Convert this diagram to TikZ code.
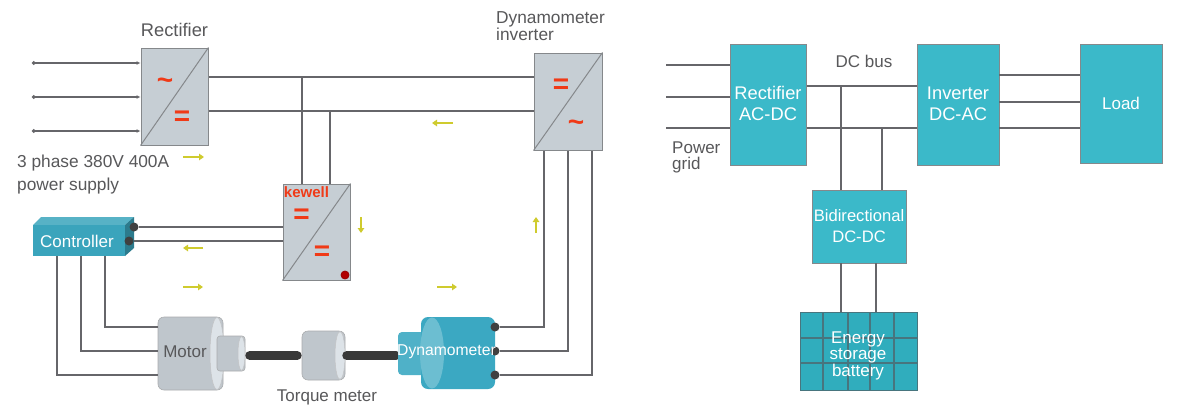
\documentclass[tikz,border=0pt]{standalone}
\usepackage{fontspec}
\setmainfont{Liberation Sans}
\usetikzlibrary{arrows.meta,calc,shapes.geometric}
\definecolor{boxgrey}{HTML}{C6CED4}
\definecolor{edgegrey}{HTML}{85888B}
\definecolor{wire}{HTML}{66666A}
\definecolor{tealbox}{HTML}{3BB9C9}
\definecolor{teal2}{HTML}{30ADBD}
\definecolor{gridline}{HTML}{48757E}
\definecolor{ctrlteal}{HTML}{3AA4BC}
\definecolor{dyno}{HTML}{3BA8C2}
\definecolor{labelgrey}{HTML}{58585A}
\definecolor{redmark}{HTML}{F03A17}
\definecolor{flowyellow}{HTML}{CFCB2E}
\definecolor{motorgrey}{HTML}{BFC6CC}
\definecolor{motorlight}{HTML}{DDE3E8}
\newcommand{\fs}[2]{\fontsize{#1}{#2}\selectfont}
\tikzset{
  x=1pt,y=-1pt,
  conv/.style={draw=edgegrey,fill=boxgrey,line width=1pt,inner sep=0pt},
  tealnode/.style={draw=edgegrey,fill=tealbox,line width=1pt,inner sep=0pt,text=white,align=center,font=\fs{17}{17}},
  wireline/.style={draw=wire,line width=1.5pt},
  diag/.style={draw=edgegrey,line width=1pt},
  lab/.style={text=labelgrey,inner sep=0pt,align=left},
  wlab/.style={text=white,inner sep=0pt,align=center},
  markr/.style={text=redmark,inner sep=0pt,font=\fs{28}{28}\bfseries},
  flow/.style={draw=flowyellow,line width=2.4pt,-{Triangle[length=5pt,width=6.5pt]}},
  feed/.style={draw=wire,line width=1.4pt,{Circle[length=3.5pt]}-{Latex[length=4pt,width=4pt]}},
  port/.style={circle,fill=black!75,inner sep=0pt,minimum size=9pt},
  cyl/.style={draw=edgegrey!70,fill=motorgrey,line width=.6pt,inner sep=0pt,rounded corners=6pt},
  endcap/.style={ellipse,draw=edgegrey!50,fill=motorlight,line width=.5pt,inner sep=0pt},
  shaft/.style={draw=black!78,line width=9pt,line cap=round},
}
\begin{document}
\begin{tikzpicture}
\useasboundingbox (0,0) rectangle (1177,408);
\fill[white] (0,0) rectangle (1177,408);

% --- converters, left panel
\node[conv,minimum width=67pt,minimum height=97pt] (rect) at (174.5,96.5) {};
\node[conv,minimum width=68pt,minimum height=97pt] (inv) at (568,101.5) {};
\node[conv,minimum width=67pt,minimum height=96pt] (kew) at (316.5,232) {};
\draw[diag] (rect.south west) -- (rect.north east);
\draw[diag] (inv.south west) -- (inv.north east);
\draw[diag] (kew.south west) -- (kew.north east);
\node[markr] (m1) at (165,84) {\char`~};
\node[markr] (m2) at (182,118) {=};
\node[markr] (m3) at (561,86) {=};
\node[markr] (m4) at (576,126) {\char`~};
\node[markr] (m5) at (301.5,216.5) {=};
\node[markr] (m6) at (322,253.5) {=};
\node[text=redmark,inner sep=0pt,font=\fs{15}{15}\bfseries] (kewell) at (306.5,192) {kewell};
\node[circle,draw=red!60!black,fill=red!70!black,line width=.8pt,inner sep=0pt,minimum size=8pt] (kdot) at (345,275) {};

% --- input feeds
\coordinate (f1) at (32,63); \coordinate (f2) at (32,97); \coordinate (f3) at (32,131);
\draw[feed] (f1) -- (rect.west |- f1);
\draw[feed] (f2) -- (rect.west |- f2);
\draw[feed] (f3) -- (rect.west |- f3);

% --- DC bus, left panel
\coordinate (b1) at (302,77); \coordinate (b2) at (330,111);
\draw[wireline] (rect.east |- b1) -- (inv.west |- b1);
\draw[wireline] (rect.east |- b2) -- (inv.west |- b2);
\draw[wireline] (b1) -- (b1 |- kew.north);
\draw[wireline] (b2) -- (b2 |- kew.north);

% --- controller
\fill[ctrlteal!85!white] (33,225) -- (41,217) -- (134,217) -- (125,225) -- cycle;
\fill[ctrlteal!75!black] (125,225) -- (134,217) -- (134,248) -- (125,256) -- cycle;
\node[fill=ctrlteal,inner sep=0pt,minimum width=92pt,minimum height=31pt] (ctrl) at (79,240.5) {};
\node[text=white,inner sep=0pt,font=\fs{17}{17}] (ctrll) at (77,241) {Controller};
\node[port] (cp1) at (134,227) {};
\node[port] (cp2) at (129,241) {};
\draw[wireline] (cp1) -- (kew.west |- cp1);
\draw[wireline] (cp2) -- (kew.west |- cp2);

% --- machines
\node[cyl,minimum width=65pt,minimum height=73pt] (motor) at (190.5,353.5) {};
\node[endcap,minimum width=14pt,minimum height=72pt] (motorcap) at (217,353.5) {};
\node[cyl,rounded corners=3pt,minimum width=28pt,minimum height=35pt] (stub) at (231,353.5) {};
\node[endcap,minimum width=7pt,minimum height=34pt] (stubcap) at (241.5,353.5) {};
\node[cyl,minimum width=43pt,minimum height=49pt] (torque) at (323.5,355.5) {};
\node[endcap,minimum width=10pt,minimum height=48pt] (torquecap) at (340,355.5) {};
\draw[shaft] ($(stubcap.east)+(4.5,2)$) -- ($(torque.west)+(-4.5,0)$);
\draw[shaft] ($(torquecap.east)+(1.5,0)$) -- (396,355.5);
\node[fill=dyno!90!white,rounded corners=4pt,inner sep=0pt,minimum width=30pt,minimum height=43pt] (dstub) at (413,353.5) {};
\node[fill=dyno,rounded corners=7pt,inner sep=0pt,minimum width=74pt,minimum height=72pt] (dyn) at (458,353) {};
\node[ellipse,fill=dyno!75!white,inner sep=0pt,minimum width=24pt,minimum height=71pt] (dyncap) at (432,353) {};
\node[port] (dp1) at (495,327) {};
\node[port] (dp2) at (495,351) {};
\node[port] (dp3) at (495,375) {};
\node[text=labelgrey,inner sep=0pt,font=\fs{17}{17}] (motorl) at (185,352) {Motor};
\node[text=white,inner sep=0pt,font=\fs{15.7}{16}] (dynl) at (446.5,352) {Dynamometer};

% --- controller to motor
\coordinate (c1) at (105,327); \coordinate (c2) at (81,351); \coordinate (c3) at (57,375);
\draw[wireline] (c1 |- ctrl.south) -- (c1) -- (motor.west |- c1);
\draw[wireline] (c2 |- ctrl.south) -- (c2) -- (motor.west |- c2);
\draw[wireline] (c3 |- ctrl.south) -- (c3) -- (motor.west |- c3);

% --- dynamometer to inverter
\coordinate (d1) at (544,327); \coordinate (d2) at (568,351); \coordinate (d3) at (592,375);
\draw[wireline] (dp1) -- (d1) -- (d1 |- inv.south);
\draw[wireline] (dp2) -- (d2) -- (d2 |- inv.south);
\draw[wireline] (dp3) -- (d3) -- (d3 |- inv.south);

% --- power flow arrows
\draw[flow] (183,157) -- (204,157);
\draw[flow] (453,123) -- (432,123);
\draw[flow] (203,248) -- (183,248);
\draw[flow] (183,287) -- (203,287);
\draw[flow] (437,287) -- (457,287);
\draw[flow] (361,217) -- (361,233);
\draw[flow] (536,233) -- (536,217);

% --- left labels
\node[lab,font=\fs{18.3}{18.3}] (l1) at (174.5,30) {Rectifier};
\node[lab,anchor=west,font=\fs{17.3}{17}] (l2) at (496,26.5) {Dynamometer\\inverter};
\node[lab,anchor=west,font=\fs{17.3}{23}] (l3) at (17,174.5) {3 phase 380V 400A\\power supply};
\node[lab,font=\fs{17}{17}] (l4) at (327,397) {Torque meter};

% --- right panel
\node[tealnode,minimum width=76pt,minimum height=121pt] (r) at (768,104.5) {};
\node[tealnode,minimum width=82pt,minimum height=121pt] (i) at (958,104.5) {};
\node[tealnode,minimum width=82pt,minimum height=119pt] (load) at (1121,103.5) {Load};
\node[tealnode,minimum width=94pt,minimum height=73pt] (bi) at (859,226.5) {};
\node[draw=gridline,fill=teal2,line width=1pt,inner sep=0pt,minimum width=117pt,minimum height=78pt] (bat) at (858.5,351) {};
\foreach \xx in {823,848,870,894}
  \draw[draw=gridline,line width=1.2pt] (\xx,312) -- (\xx,390);
\foreach \yy in {338,363}
  \draw[draw=gridline,line width=1.2pt] (800,\yy) -- (917,\yy);
\node[wlab,font=\fs{18.3}{21}] (rt) at (768,103.5) {Rectifier\\AC-DC};
\node[wlab,font=\fs{18.3}{21}] (it) at (958,103.5) {Inverter\\DC-AC};
\node[wlab,font=\fs{16.6}{21}] (bt) at (859,226.5) {Bidirectional\\DC-DC};
\node[wlab,font=\fs{17}{16.5}] (et) at (858,355.5) {Energy\\storage\\battery};
\node[lab,font=\fs{17}{17}] (dcb) at (864,61) {DC bus};
\node[lab,anchor=west,font=\fs{17}{16}] (pg) at (672,157) {Power\\grid};

\coordinate (g1) at (666,65); \coordinate (g2) at (666,97); \coordinate (g3) at (666,128);
\draw[wireline] (g1) -- (r.west |- g1);
\draw[wireline] (g2) -- (r.west |- g2);
\draw[wireline] (g3) -- (r.west |- g3);
\coordinate (h1) at (841,86); \coordinate (h2) at (882,128);
\draw[wireline] (r.east |- h1) -- (i.west |- h1);
\draw[wireline] (r.east |- h2) -- (i.west |- h2);
\draw[wireline] (h1) -- (h1 |- bi.north);
\draw[wireline] (h2) -- (h2 |- bi.north);
\coordinate (k1) at (999,75); \coordinate (k2) at (999,102); \coordinate (k3) at (999,128);
\draw[wireline] (k1) -- (load.west |- k1);
\draw[wireline] (k2) -- (load.west |- k2);
\draw[wireline] (k3) -- (load.west |- k3);
\coordinate (n1) at (841,263); \coordinate (n2) at (876,263);
\draw[wireline] (n1) -- (n1 |- bat.north);
\draw[wireline] (n2) -- (n2 |- bat.north);
\end{tikzpicture}
\end{document}
